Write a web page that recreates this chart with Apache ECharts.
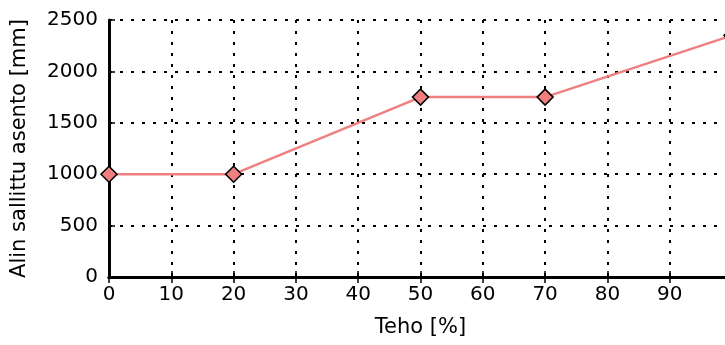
<!DOCTYPE html>
<html>
<head>
<meta charset="utf-8">
<script src="https://cdn.jsdelivr.net/npm/echarts@6/dist/echarts.min.js"></script>
<style>
html,body{margin:0;padding:0;background:#fff;}
#chart{width:725px;height:345px;}
</style>
</head>
<body>
<div id="chart"></div>
<script>
// Data
const power = [0, 20, 50, 70, 100];          // Teho [%]
const minHeight = [1000, 1000, 1750, 1750, 2350]; // Alin sallittu asento [mm]
const xTicks = [0, 10, 20, 30, 40, 50, 60, 70, 80, 90];
const yTicks = [0, 500, 1000, 1500, 2000, 2500];
const xTitle = 'Teho [%]';
const yTitle = 'Alin sallittu asento [mm]';

const font = 'DejaVu Sans';
const fs = 20;
const nameFs = 21;

const chart = echarts.init(document.getElementById('chart'), null, {renderer: 'canvas'});
const points = power.map((p, i) => [p, minHeight[i]]);

const gridLine = {show: true, lineStyle: {color: '#000', width: 2, type: [3, 8]}};
chart.setOption({
  animation: false,
  backgroundColor: '#fff',
  grid: {left: 109, top: 20, right: -7, bottom: 68, containLabel: false, outerBoundsMode: 'none'},
  xAxis: [{
    type: 'value', min: 0, max: 100, interval: 10,
    name: xTitle, nameLocation: 'middle', nameGap: 40,
    nameTextStyle: {fontFamily: font, fontSize: nameFs, color: '#000'},
    axisLine: {show: true, onZero: false, lineStyle: {color: '#000', width: 3}},
    axisTick: {show: true, inside: true, length: 6, lineStyle: {color: '#000', width: 1.5}},
    axisLabel: {fontFamily: font, fontSize: fs, color: '#000', margin: 8,
      formatter: v => xTicks.indexOf(v) >= 0 ? String(v) : ''},
    splitLine: gridLine
  }, {
    type: 'value', position: 'top', min: 0, max: 100, interval: 10,
    axisLine: {show: true, lineStyle: {color: '#000', width: 3}},
    axisTick: {show: true, inside: true, length: 6, lineStyle: {color: '#000', width: 1.5}},
    axisLabel: {show: false}, splitLine: {show: false}
  }],
  yAxis: [{
    type: 'value', min: 0, max: 2500, interval: 500,
    name: yTitle, nameLocation: 'middle', nameGap: 79, nameRotate: 90,
    nameTextStyle: {fontFamily: font, fontSize: nameFs, color: '#000'},
    axisLine: {show: true, onZero: false, lineStyle: {color: '#000', width: 3}},
    axisTick: {show: true, inside: true, length: 6, lineStyle: {color: '#000', width: 1.5}},
    axisLabel: {fontFamily: font, fontSize: fs, color: '#000', margin: 11,
      formatter: v => yTicks.indexOf(v) >= 0 ? String(v) : ''},
    splitLine: gridLine
  }],
  series: [{
    type: 'line',
    data: points,
    clip: true,
    symbol: 'diamond',
    symbolSize: 16,
    showAllSymbol: true,
    lineStyle: {color: '#f08080', width: 2.5},
    itemStyle: {color: '#f08080', borderColor: '#000', borderWidth: 1.5},
    z: 3
  }]
});
</script>
</body>
</html>
